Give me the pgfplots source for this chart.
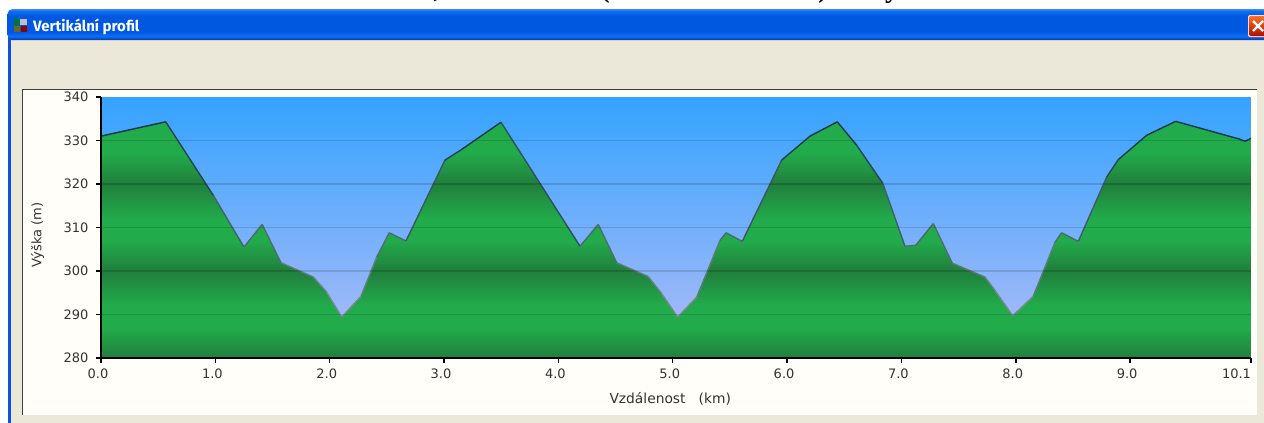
\documentclass[border=0pt]{standalone}
\usepackage{fontspec}
\setmainfont{DejaVu Sans}
\newfontfamily\titlefont{Fira Sans}
\newfontfamily\headfont{Liberation Serif}
\usepackage{pgfplots}
\usepackage{pgfplotstable}
\pgfplotsset{compat=1.18}
\definecolor{beige}{HTML}{EBE8D9}
\definecolor{panel}{HTML}{FFFEF9}
\definecolor{xpblue}{HTML}{0A52DF}
\definecolor{gbright}{HTML}{22AB4B}
\definecolor{gdark}{HTML}{207F3C}
\definecolor{labelc}{HTML}{333333}
\definecolor{cbgtop}{HTML}{34A3FF}
\definecolor{cbgbot}{HTML}{B3BCF7}
\definecolor{ta}{RGB}{10,47,144}
\definecolor{tb}{RGB}{10,80,200}
\definecolor{tc}{RGB}{10,110,250}
\definecolor{td}{RGB}{0,88,224}
\definecolor{te}{RGB}{15,111,240}
\definecolor{tf}{RGB}{58,140,248}
\pgfdeclareverticalshading{profile}{100bp}{
 color(0bp)=(gdark); color(25bp)=(gdark); color(31.4bp)=(gbright); color(36bp)=(gbright);
 color(43.4bp)=(gdark); color(49.8bp)=(gbright); color(54.4bp)=(gbright);
 color(61.8bp)=(gdark); color(68.3bp)=(gbright); color(100bp)=(gbright)}
\pgfdeclareverticalshading{titlebar}{100bp}{
 color(0bp)=(ta); color(25bp)=(ta);
 color(27.4bp)=(tb); color(31.5bp)=(tc);
 color(37.9bp)=(td); color(63.7bp)=(td);
 color(71.8bp)=(te); color(75bp)=(tf);
 color(100bp)=(tf)}
\pgfplotstableread{
km m
0.000 331.0
0.566 334.3
0.982 317.4
1.250 305.5
1.410 310.7
1.574 301.9
1.857 298.6
1.974 295.1
2.105 289.4
2.274 294.2
2.411 303.2
2.521 308.8
2.667 306.9
3.008 325.5
3.140 327.7
3.498 334.2
4.189 305.7
4.349 310.7
4.510 301.9
4.786 298.7
4.903 294.8
5.043 289.4
5.210 294.0
5.413 307.0
5.466 308.8
5.608 306.8
5.953 325.5
6.200 331.0
6.439 334.3
6.609 328.9
6.836 320.2
7.031 305.7
7.125 305.9
7.279 310.9
7.445 301.8
7.731 298.6
7.818 295.5
7.973 289.7
8.153 294.2
8.343 306.6
8.401 308.8
8.547 306.8
8.795 321.6
8.896 325.6
9.145 331.2
9.398 334.4
9.960 330.3
10.004 329.8
10.057 330.5
}\profiledata
\begin{document}
\begin{tikzpicture}[x=1pt,y=-1pt]
\path[use as bounding box] (0,0) rectangle (1264,423);
\clip (0,0) rectangle (1264,423);
\fill[white] (0,0) rectangle (1264,423);
% clipped remains of the heading above the window
\begin{scope}
\clip (0,0) rectangle (1264,9);
\foreach \px/\s in {437/{,},605/{(},823/{)},892/{y}}
  \node[anchor=base,inner sep=0pt,font=\headfont\bfseries\fontsize{28}{30}\selectfont,text=black] at (\px,-2) {\s};
\end{scope}
% window
\fill[xpblue] (7.5,30) rectangle (1264,423);
\fill[beige] (11,40) rectangle (1264,423);
\shade[shading=titlebar,rounded corners=5pt] (7.5,40) -- (7.5,9) -- (1275,9) -- (1275,40) -- cycle;
% icon
\fill[gray!50!white] (20,19) rectangle (27,25);
\fill[olive!70!black] (14,26) rectangle (20,32);
\fill[red!55!black] (21,26) rectangle (27,32);
\fill[green!50!black] (14,19) rectangle (19,25);
\node[anchor=base west,inner sep=0pt,text=white,font=\titlefont\bfseries\fontsize{15}{16}\selectfont] at (33,31) {Vertikální profil};
% close button
\fill[white!85!red,rounded corners=2pt] (1248,15) rectangle (1275,37);
\shade[top color=orange!70!red!85!white,bottom color=red!65!black!90!orange,rounded corners=2pt] (1249,16) rectangle (1275,36);
\draw[white,line width=2.2pt] (1253,21) -- (1263,31) (1263,21) -- (1253,31);
% panel
\fill[panel] (22.5,89.5) rectangle (1256.7,415);
\draw[black!75,line width=1pt] (22.5,415) -- (22.5,89.5) -- (1256.7,89.5);
\begin{axis}[
  at={(101pt,-358pt)},anchor=south west,
  scale only axis,width=1150pt,height=261pt,
  xmin=0,xmax=10.057,ymin=280,ymax=340,
  axis x line*=bottom,axis y line*=left,
  axis line style={black,line width=1.5pt,-},
  axis on top,
  axis background/.style={top color=cbgtop,bottom color=cbgbot},
  xtick={0,1,2,3,4,5,6,7,8,9,10.057},
  xticklabels={0.0,1.0,2.0,3.0,4.0,5.0,6.0,7.0,8.0,9.0,\makebox[0pt][r]{10.1\hspace{-3pt}}},
  ytick={290,300,310,320,330},
  extra y ticks={280,340},
  extra y tick style={grid=none},
  extra y tick labels={280,340},
  ymajorgrids,
  major grid style={black,opacity=0.14,line width=1.3pt},
  tick align=outside,
  major tick length=5pt,
  tick style={black,line width=1.5pt},
  /pgf/number format/assume math mode=true,
  tick label style={font=\fontsize{13}{14}\selectfont,text=labelc},
  xticklabel style={xshift=-3pt,yshift=-2.5pt},
  yticklabel style={xshift=-4pt},
  xlabel={Vzdálenost\ \ \ (km)},
  ylabel={Výška (m)},
  xlabel style={at={(axis description cs:0.495,-0.158)},anchor=center,font=\fontsize{13.8}{15}\selectfont,text=labelc},
  ylabel style={at={(axis description cs:-0.0552,0.47)},anchor=center,font=\fontsize{13}{14}\selectfont,text=labelc},
  colormap={edge}{rgb255(0)=(120,145,140) rgb255(1)=(12,52,70)},
  colormap name=edge,
]
\addplot[draw=none,shade,shading=profile] table[x=km,y=m] {\profiledata} \closedcycle;
\addplot[mesh,point meta=y,no marks,line width=1.4pt] table[x=km,y=m] {\profiledata};
\end{axis}
\end{tikzpicture}
\end{document}
